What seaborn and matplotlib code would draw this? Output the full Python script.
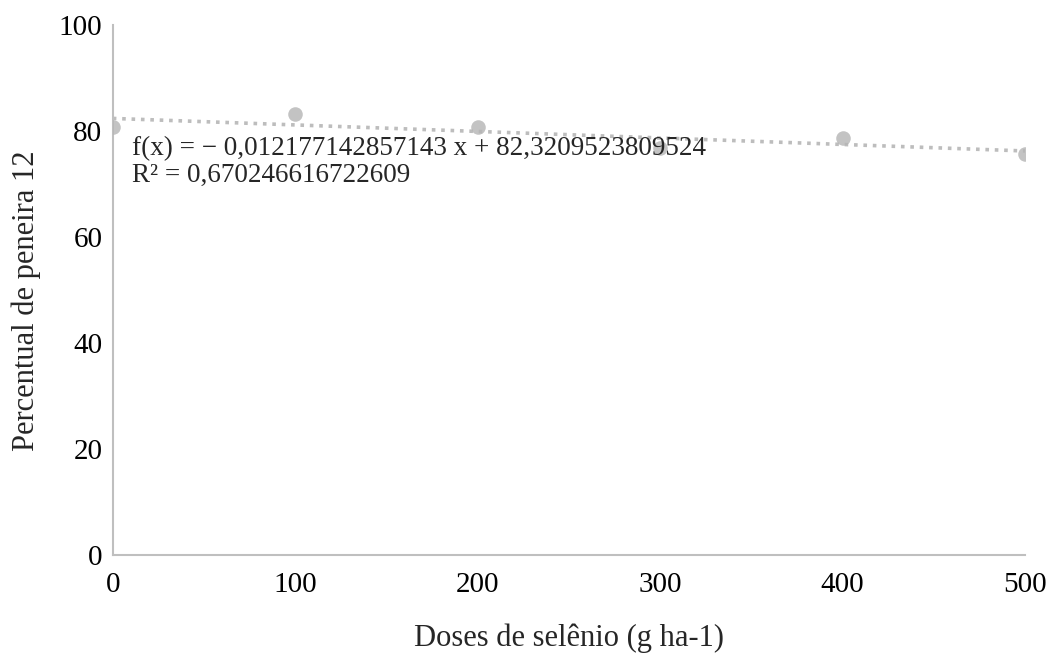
import pandas as pd
from matplotlib import pyplot as plt
import numpy as np
import seaborn as sns

#--- data
doses = [0, 100, 200, 300, 400, 500]
peneira12 = [80.8, 83.2, 80.7, 76.7, 78.7, 75.7]
eq_text = 'f(x) = \u2212 0,012177142857143 x + 82,3209523809524\nR\u00b2 = 0,670246616722609'

df = pd.DataFrame({'Dose': doses, 'Peneira': peneira12})

#--- plot
sns.set_style('white')
plt.rcParams['font.family'] = ['Liberation Serif', 'DejaVu Serif']

fig = plt.figure(figsize=(10.54, 6.54), dpi=100)
ax = fig.add_axes([0.107, 0.1514, 0.8655, 0.8104])

sns.regplot(data=df, x='Dose', y='Peneira', ci=None, ax=ax, truncate=True,
            scatter_kws={'s': 110, 'color': '#b5b5b5', 'linewidths': 0, 'zorder': 3},
            line_kws={'color': '#bdbdbd', 'linestyle': (0, (1, 1.6)), 'linewidth': 2.6})

ax.set_xlim(0, 500)
ax.set_ylim(0, 100)
ax.set_xticks(range(0, 501, 100))
ax.set_yticks(range(0, 101, 20))
ax.tick_params(axis='both', length=0, labelsize=21, colors='black')
ax.tick_params(axis='x', pad=12.5)
ax.tick_params(axis='y', pad=7.5)

for s in ['top', 'right']:
    ax.spines[s].set_visible(False)
for s in ['left', 'bottom']:
    ax.spines[s].set_color('#bfbfbf')
    ax.spines[s].set_linewidth(1.5)

ax.set_xlabel('Doses de selênio (g ha-1)', fontsize=22, labelpad=18)
ax.set_ylabel('Percentual de peneira 12', fontsize=22)
ax.yaxis.set_label_coords(-0.0785, 0.48)

ax.text(0.021, 0.79, eq_text, transform=ax.transAxes, fontsize=19.5,
        va='top', ha='left', linespacing=1.1)

plt.savefig('out.png', dpi=100)
plt.close()
